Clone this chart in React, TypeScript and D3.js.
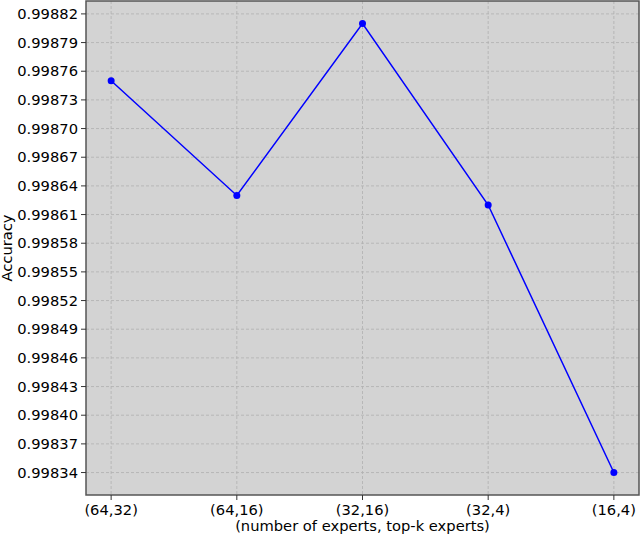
import React from 'react';
import * as d3 from 'd3';

const configs = ['(64,32)', '(64,16)', '(32,16)', '(32,4)', '(16,4)'];
const accuracy = [0.99875, 0.99863, 0.99881, 0.99862, 0.99834];
const yTicks = [
  0.99834, 0.99837, 0.9984, 0.99843, 0.99846, 0.99849, 0.99852, 0.99855,
  0.99858, 0.99861, 0.99864, 0.99867, 0.9987, 0.99873, 0.99876, 0.99879, 0.99882,
];

const width = 640;
const height = 534;
const margin = { top: 1, right: 1, bottom: 39, left: 86 };
const font = 'DejaVu Sans, sans-serif';

const App = () => {
  const innerW = width - margin.left - margin.right;
  const innerH = height - margin.top - margin.bottom;

  // matplotlib-like limits: 0.2 step padding on x, 5% on y
  const x = d3.scaleLinear().domain([-0.2, configs.length - 1 + 0.2]).range([0, innerW]);
  const [lo, hi] = d3.extent(accuracy) as [number, number];
  const pad = (hi - lo) * 0.05;
  const y = d3.scaleLinear().domain([lo - pad, hi + pad]).range([innerH, 0]);

  const line = d3.line<number>()
    .x((_, i) => x(i))
    .y(d => y(d));

  return (
    <svg width={width} height={height} style={{ display: 'block', position: 'absolute', left: 0, top: 0 }}>
      <g transform={`translate(${margin.left},${margin.top})`}>
        <rect width={innerW} height={innerH} fill="#d3d3d3" />
        {yTicks.map(t => (
          <line key={'gy' + t} x1={0} x2={innerW} y1={y(t)} y2={y(t)}
            stroke="#b0b0b0" strokeWidth={0.8} strokeDasharray="3,2" />
        ))}
        {configs.map((c, i) => (
          <line key={'gx' + c} x1={x(i)} x2={x(i)} y1={0} y2={innerH}
            stroke="#b0b0b0" strokeWidth={0.8} strokeDasharray="3,2" />
        ))}
        <path d={line(accuracy) ?? ''} fill="none" stroke="#0000ff" strokeWidth={1.5} />
        {accuracy.map((d, i) => (
          <circle key={i} cx={x(i)} cy={y(d)} r={3.5} fill="#0000ff" />
        ))}
        <rect width={innerW} height={innerH} fill="none" stroke="#555" strokeWidth={1.5} />
        {yTicks.map(t => (
          <g key={'ty' + t} transform={`translate(0,${y(t)})`}>
            <line x1={-5} x2={0} stroke="#333" strokeWidth={1} />
            <text x={-8} dy="0.35em" textAnchor="end" fontFamily={font} fontSize={14.7} fill="#000">
              {d3.format('.5f')(t)}
            </text>
          </g>
        ))}
        {configs.map((c, i) => (
          <g key={'tx' + c} transform={`translate(${x(i)},${innerH})`}>
            <line y1={0} y2={5} stroke="#333" strokeWidth={1} />
            <text y={20} textAnchor="middle" fontFamily={font} fontSize={14.7} fill="#000">{c}</text>
          </g>
        ))}
        <text x={innerW / 2} y={innerH + 36} textAnchor="middle" fontFamily={font} fontSize={14.7} fill="#000">
          (number of experts, top-k experts)
        </text>
        <text transform={`translate(${-74},${innerH / 2}) rotate(-90)`} textAnchor="middle"
          fontFamily={font} fontSize={14.7} fill="#000">
          Accuracy
        </text>
      </g>
    </svg>
  );
};

export default App;
